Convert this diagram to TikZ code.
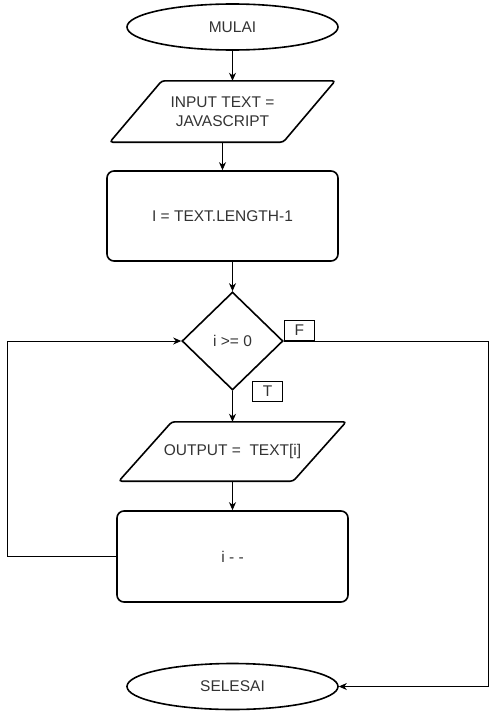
\documentclass[tikz,border=0pt]{standalone}
\usepackage{fontspec}
\setmainfont{Liberation Sans}
\usetikzlibrary{shapes.geometric,arrows.meta}
\definecolor{txt}{RGB}{51,51,51}
\tikzset{
  base/.style={font=\fontsize{15.5}{19}\selectfont, text=txt, align=center, inner sep=0pt},
  term/.style={base, ellipse, draw, line width=1.6pt, minimum width=211pt, minimum height=46pt},
  procbox/.style={base, rectangle, draw, line width=1.6pt, rounded corners=7pt},
  iobox/.style={base, rectangle},
  decbox/.style={base, diamond, draw, line width=1.6pt, minimum width=101pt, minimum height=98pt},
  lbl/.style={base, rectangle, draw, line width=0.9pt, minimum width=30pt, minimum height=20pt},
  para/.style={line width=1.6pt, rounded corners=3pt},
  conn/.style={line width=0.9pt, -{Stealth[length=8pt,width=7pt,inset=2.5pt]}},
  plain/.style={line width=0.9pt}
}
\begin{document}
\begin{tikzpicture}[x=1pt,y=-1pt]
\useasboundingbox (0,0) rectangle (497,712);
% terminals
\node[term] (mulai) at (232.5,27) {MULAI};
\node[term] (selesai) at (232.5,686.5) {SELESAI};
% input parallelogram
\node[iobox, minimum width=225pt, minimum height=61pt] (in) at (222.5,111.5) {INPUT TEXT =\\JAVASCRIPT};
\draw[para] ([xshift=52pt]in.north west) -- (in.north east) -- ([xshift=-52pt]in.south east) -- (in.south west) -- cycle;
% process 1
\node[procbox, minimum width=231pt, minimum height=90pt] (r1) at (222.5,216) {I = TEXT.LENGTH-1};
% decision
\node[decbox] (dia) at (232.5,341) {i >= 0};
% output parallelogram
\node[iobox, minimum width=227pt, minimum height=59pt] (out) at (232.5,451.5) {OUTPUT =\ \ TEXT[i]};
\draw[para] ([xshift=53pt]out.north west) -- (out.north east) -- ([xshift=-53pt]out.south east) -- (out.south west) -- cycle;
% process 2
\node[procbox, minimum width=231pt, minimum height=91pt] (r2) at (232.5,556.5) {i - -};
% labels
\node[lbl, anchor=south west] (lf) at (dia.east) {F};
\node[lbl] (lt) at (267.5,391) {T};
% connector helper coordinates
\coordinate (loopl) at (7,556.5);
\coordinate (loopr) at (488,341);
% connectors
\draw[conn] (mulai.south) -- (mulai.south |- in.north);
\draw[conn] (in.south) -- (r1.north);
\draw[conn] (dia.north |- r1.south) -- (dia.north);
\draw[conn] (dia.south) -- (out.north);
\draw[conn] (out.south) -- (r2.north);
\draw[conn] (r2.west) -- (loopl) |- (dia.west);
\draw[conn] (dia.east) -- (loopr) |- (selesai.east);
\end{tikzpicture}
\end{document}
